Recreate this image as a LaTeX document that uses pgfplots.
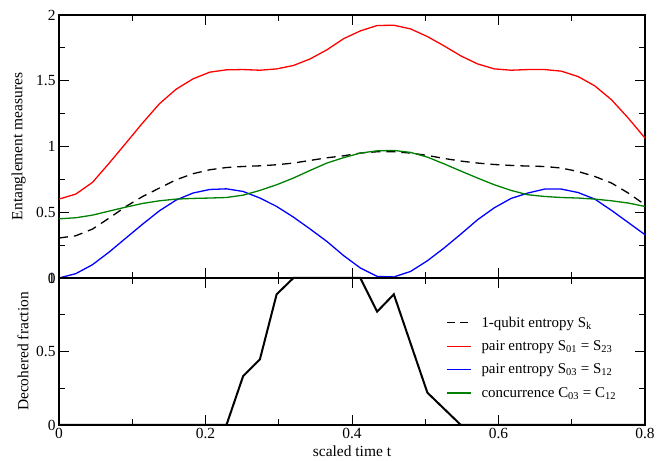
\documentclass[border=0pt]{standalone}
\usepackage{pgfplots}
\usepackage{pgfplotstable}
\pgfplotsset{compat=1.18}
\usepackage{fontspec}
\setmainfont{Liberation Serif}

\pgfplotstableread{
t Sk S01 S03 C
0.0000 0.304 0.600 0.000 0.450
0.0229 0.321 0.638 0.033 0.458
0.0457 0.372 0.727 0.101 0.478
0.0686 0.456 0.874 0.198 0.509
0.0914 0.544 1.026 0.304 0.539
0.1143 0.620 1.180 0.410 0.567
0.1371 0.684 1.325 0.511 0.587
0.1600 0.747 1.436 0.593 0.600
0.1829 0.793 1.514 0.646 0.605
0.2057 0.823 1.565 0.673 0.608
0.2286 0.840 1.583 0.678 0.612
0.2514 0.848 1.585 0.658 0.630
0.2743 0.853 1.580 0.608 0.666
0.2971 0.861 1.590 0.544 0.709
0.3200 0.874 1.616 0.463 0.760
0.3429 0.894 1.666 0.372 0.818
0.3657 0.914 1.735 0.278 0.874
0.3886 0.929 1.820 0.170 0.915
0.4114 0.950 1.879 0.076 0.950
0.4343 0.960 1.920 0.012 0.967
0.4571 0.960 1.922 0.008 0.970
0.4800 0.950 1.894 0.050 0.955
0.5029 0.932 1.836 0.131 0.919
0.5257 0.909 1.765 0.228 0.868
0.5486 0.889 1.689 0.334 0.813
0.5714 0.874 1.628 0.443 0.760
0.5943 0.863 1.590 0.534 0.709
0.6171 0.856 1.580 0.605 0.666
0.6400 0.851 1.585 0.646 0.633
0.6629 0.848 1.585 0.676 0.620
0.6857 0.836 1.573 0.676 0.612
0.7086 0.810 1.532 0.650 0.608
0.7314 0.772 1.461 0.600 0.600
0.7543 0.722 1.355 0.514 0.587
0.7771 0.646 1.216 0.422 0.570
0.8000 0.557 1.064 0.329 0.544
}\topdata

\pgfplotstableread{
t D
0.0000 0
0.2286 0
0.2514 0.333
0.2743 0.447
0.2971 0.889
0.3200 1
0.4114 1
0.4343 0.771
0.4571 0.889
0.5029 0.220
0.5486 0
0.8000 0
}\botdata

\pgfplotsset{
  common/.style={
    scale only axis, width=586bp,
    xmin=0, xmax=0.8,
    xtick={0,0.2,0.4,0.6,0.8},
    minor x tick num=1, minor y tick num=1,
    tick align=inside, major tick length=10bp, minor tick length=6bp,
    axis line style={line width=1.2bp},
    every tick/.style={black, line width=0.9bp},
    tick label style={font=\fontsize{15.5}{18}\selectfont},
    /pgf/number format/assume math mode=true,
    label style={font=\fontsize{15.5}{18}\selectfont},
  }
}

\begin{document}
\begin{tikzpicture}[x=1bp,y=1bp]
\path[use as bounding box] (0,0) rectangle (667,461);
\begin{axis}[common,
  at={(59bp,183bp)}, anchor=south west, height=263bp,
  ymin=0, ymax=2, ytick={0,0.5,1,1.5,2},
  xticklabels={},
  ylabel={Entanglement measures},
  ylabel style={at={(axis description cs:-0.0688,0.5)}, anchor=center},
]
\addplot[black, line width=1.3bp, dash pattern=on 9bp off 6bp] table[x=t,y=Sk] {\topdata};
\addplot[red, line width=1.3bp] table[x=t,y=S01] {\topdata};
\addplot[blue, line width=1.3bp] table[x=t,y=S03] {\topdata};
\addplot[green!50!black, line width=1.3bp] table[x=t,y=C] {\topdata};
\end{axis}

\begin{axis}[common,
  at={(59bp,36bp)}, anchor=south west, height=147bp,
  clip=false,
  ymin=0, ymax=1, ytick={0,0.5,1},
  ylabel={Decohered fraction},
  ylabel style={at={(axis description cs:-0.0614,0.5)}, anchor=center},
  xlabel={scaled time t},
  xlabel style={at={(axis description cs:0.5,-0.215)}, anchor=base},
  legend style={draw=none, fill=none, font=\fontsize{15}{17}\selectfont,
    at={(axis description cs:0.655,0.765)}, anchor=north west,
    row sep=8bp},
  legend cell align=left,
  legend image code/.code={\draw[#1] (0bp,0bp) -- (24bp,0bp); \path (32bp,0bp);},
]
\addplot[black, line width=2bp, forget plot] table[x=t,y=D] {\botdata};
\addlegendimage{draw=black, line width=1.5bp, dash pattern=on 8bp off 5bp}
\addlegendentry{1-qubit entropy S\textsubscript{k}}
\addlegendimage{draw=red, line width=1.5bp}
\addlegendentry{pair entropy S\textsubscript{01} = S\textsubscript{23}}
\addlegendimage{draw=blue, line width=1.5bp}
\addlegendentry{pair entropy S\textsubscript{03} = S\textsubscript{12}}
\addlegendimage{draw=green!50!black, line width=1.5bp}
\addlegendentry{concurrence C\textsubscript{03} = C\textsubscript{12}}
\end{axis}
\end{tikzpicture}
\end{document}
